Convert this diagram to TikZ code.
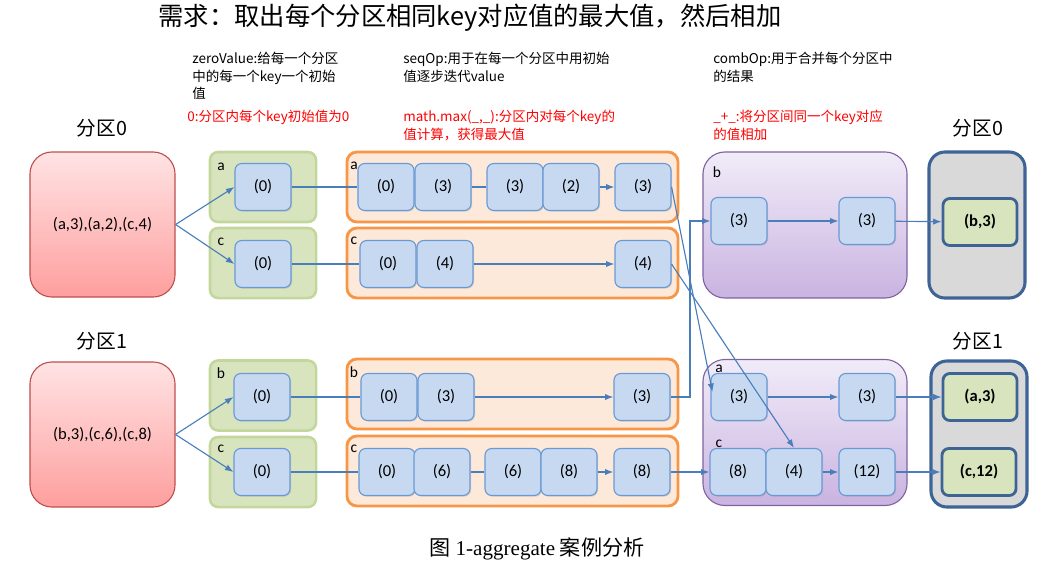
\documentclass[tikz,border=0pt]{standalone}
\usepackage{fontspec}
\setmainfont{Carlito}
\newfontfamily\cjk{Noto Sans CJK SC}
\newfontfamily\capfont{Liberation Serif}
\usetikzlibrary{arrows.meta,positioning,shadows,calc}

\definecolor{valfill}{HTML}{C6D9F1}
\definecolor{valline}{HTML}{6A9AD6}
\definecolor{flowline}{HTML}{4A7EBB}
\definecolor{grpfill}{HTML}{D7E4BD}
\definecolor{grpline}{HTML}{C3D69B}
\definecolor{seqfill}{HTML}{FDE9D9}
\definecolor{seqline}{HTML}{F79646}
\definecolor{combtop}{HTML}{F1ECF8}
\definecolor{combbot}{HTML}{C9B3E1}
\definecolor{combline}{HTML}{8064A2}
\definecolor{parttop}{HTML}{FFE3E4}
\definecolor{partbot}{HTML}{FE9F9E}
\definecolor{partline}{HTML}{C0504D}
\definecolor{resfill}{HTML}{D9D9D9}
\definecolor{resline}{HTML}{3E6496}

\tikzset{
  part/.style={draw=partline,line width=0.8pt,top color=parttop,bottom color=partbot,rounded corners=0.55cm,minimum width=3.625cm,minimum height=3.625cm,font=\fontsize{11.8}{13}\selectfont},
  grp/.style={draw=grpline,fill=grpfill,line width=1.8pt,rounded corners=0.2cm,minimum width=2.65cm,minimum height=1.75cm},
  seqbox/.style={draw=seqline,fill=seqfill,line width=2pt,rounded corners=0.25cm,minimum width=8.275cm,minimum height=1.75cm},
  combbox/.style={draw=combline,line width=0.8pt,top color=combtop,bottom color=combbot,rounded corners=0.55cm,minimum width=5.1cm,minimum height=3.65cm},
  resbox/.style={draw=resline,fill=resfill,line width=2.2pt,rounded corners=0.4cm,minimum width=2.4cm,minimum height=3.65cm},
  val/.style={draw=valline,fill=valfill,line width=0.8pt,rounded corners=0.17cm,minimum width=1.4cm,minimum height=1.175cm,inner sep=0pt,font=\fontsize{11.8}{13}\selectfont,drop shadow={opacity=0.25,shadow xshift=0.8pt,shadow yshift=-0.8pt}},
  res/.style={draw=resline,fill=grpfill,line width=2pt,rounded corners=0.17cm,minimum width=1.85cm,minimum height=1.175cm,inner sep=0pt,font=\fontsize{11.8}{13}\selectfont\bfseries},
  tag/.style={inner sep=0pt,font=\fontsize{11}{13}\selectfont},
  note/.style={anchor=north west,inner sep=0pt,align=left,font=\cjk\fontsize{9.6}{12.4}\selectfont},
  partname/.style={font=\cjk\fontsize{14}{16}\selectfont},
  flow/.style={draw=flowline,line width=0.8pt,-{Latex[length=6pt,width=4.5pt]}}
}

\begin{document}
\begin{tikzpicture}[x=0.025cm,y=-0.025cm]
  \useasboundingbox (0,0) rectangle (1064,567);
  % title, caption and notes
  \node[font=\cjk\fontsize{18}{20}\selectfont] (title) at (470,18) {需求：取出每个分区相同key对应值的最大值，然后相加};
  \node[font=\fontsize{15}{17}\selectfont] (caption) at (537,549) {{\cjk 图} {\capfont 1-aggregate} {\cjk 案例分析}};
  \node[note] (zeroNote) at (192,52) {zeroValue:给每一个分区\\中的每一个key一个初始\\值};
  \node[note,text=red] (zeroRule) at (187,110) {0:分区内每个key初始值为0};
  \node[note] (seqNote) at (403,52) {seqOp:用于在每一个分区中用初始\\值逐步迭代value};
  \node[note,text=red] (seqRule) at (403,110) {math.max(\_,\_):分区内对每个key的\\值计算，获得最大值};
  \node[note] (combNote) at (713,52) {combOp:用于合并每个分区中\\的结果};
  \node[note,text=red] (combRule) at (713,110) {\_+\_:将分区间同一个key对应\\的值相加};
  \node[partname] (name0) at (102,128) {分区0};
  \node[partname] (name1) at (102,341) {分区1};
  \node[partname] (out0) at (978,128) {分区0};
  \node[partname] (out1) at (978,341) {分区1};
  % containers
  \node[part] (P0) at (102.5,224.5) {(a,3),(a,2),(c,4)};
  \node[part] (P1) at (102.5,434.5) {(b,3),(c,6),(c,8)};
  \node[grp] (G0a) at (263,187) {};
  \node[grp] (G0c) at (263,263) {};
  \node[grp] (G1b) at (263,395.5) {};
  \node[grp] (G1c) at (263,472) {};
  \node[seqbox] (S0a) at (512.5,187) {};
  \node[seqbox] (S0c) at (512.5,263) {};
  \node[seqbox] (S1b) at (512.5,394) {};
  \node[seqbox] (S1c) at (512.5,471) {};
  \node[combbox] (C0) at (805,225) {};
  \node[combbox] (C1) at (805,432.5) {};
  \node[resbox] (R0) at (977,225) {};
  \node[resbox] (R1) at (979,434) {};
  % key tags
  \node[tag] (tG0a) at (221,167) {a};
  \node[tag] (tG0c) at (221,242) {c};
  \node[tag] (tG1b) at (221,373) {b};
  \node[tag] (tG1c) at (221,449) {c};
  \node[tag] (tS0a) at (354,166) {a};
  \node[tag] (tS0c) at (354,241) {c};
  \node[tag] (tS1b) at (354,372) {b};
  \node[tag] (tS1c) at (354,449) {c};
  \node[tag] (tC0b) at (717,172) {b};
  \node[tag] (tC1a) at (719,369) {a};
  \node[tag] (tC1c) at (719,444) {c};
  % zero values
  \node[val] (Z0a) at (263,187) {(0)};
  \node[val] (Z0c) at (263,264) {(0)};
  \node[val] (Z1b) at (262,397) {(0)};
  \node[val] (Z1c) at (262,472) {(0)};
  % seqOp, partition 0
  \node[val] (S0a1) at (386,187) {(0)};
  \node[val] (S0a2) at (443,187) {(3)};
  \node[val] (S0a3) at (515,187) {(3)};
  \node[val] (S0a4) at (571,187) {(2)};
  \node[val] (S0a5) at (643,187) {(3)};
  \node[val] (S0c1) at (388,264) {(0)};
  \node[val] (S0c2) at (445,264) {(4)};
  \node[val] (S0c3) at (643,264) {(4)};
  % seqOp, partition 1
  \node[val] (S1b1) at (389,397) {(0)};
  \node[val] (S1b2) at (446,397) {(3)};
  \node[val] (S1b3) at (642,397) {(3)};
  \node[val] (S1c1) at (387,472) {(0)};
  \node[val] (S1c2) at (442,472) {(6)};
  \node[val] (S1c3) at (513,472) {(6)};
  \node[val] (S1c4) at (569,472) {(8)};
  \node[val] (S1c5) at (642,472) {(8)};
  % combOp
  \node[val] (C0b1) at (739,221) {(3)};
  \node[val] (C0b2) at (867,221) {(3)};
  \node[val] (C1a1) at (739,397) {(3)};
  \node[val] (C1a2) at (867,397) {(3)};
  \node[val] (C1c1) at (738,472) {(8)};
  \node[val] (C1c2) at (794,472) {(4)};
  \node[val] (C1c3) at (867,472) {(12)};
  % results
  \node[res] (R0b) at (980,222) {(b,3)};
  \node[res] (R1a) at (980,397) {(a,3)};
  \node[res] (R1c) at (979,472) {(c,12)};
  \coordinate (turn) at (690,221);
  % arrows
  \draw[flow] (P0.east) -- (Z0a.west);
  \draw[flow] (P0.east) -- (Z0c.west);
  \draw[flow] (P1.east) -- (Z1b.west);
  \draw[flow] (P1.east) -- (Z1c.west);
  \draw[flow] (Z0a) -- (S0a1) (S0a2) -- (S0a3) (S0a4) -- (S0a5);
  \draw[flow] (Z0c) -- (S0c1) (S0c2) -- (S0c3);
  \draw[flow] (Z1b) -- (S1b1) (S1b2) -- (S1b3);
  \draw[flow] (Z1c) -- (S1c1) (S1c2) -- (S1c3) (S1c4) -- (S1c5);
  \draw[flow] (S0a5.east) -- ([shift={(2,-5)}]C1a1.west);
  \draw[flow] (S0c3.east) -- (C1c2.north);
  \draw[flow] (S1b3.east) -| (turn) -- (C0b1.west);
  \draw[flow] (S1c5) -- (C1c1);
  \draw[flow] (C0b1) -- (C0b2);
  \draw[flow] (C0b2) -- (R0b);
  \draw[flow] (C1a1) -- (C1a2);
  \draw[flow] (C1a2) -- (R1a);
  \draw[flow] (C1c2) -- (C1c3);
  \draw[flow] (C1c3) -- (R1c);
\end{tikzpicture}
\end{document}
